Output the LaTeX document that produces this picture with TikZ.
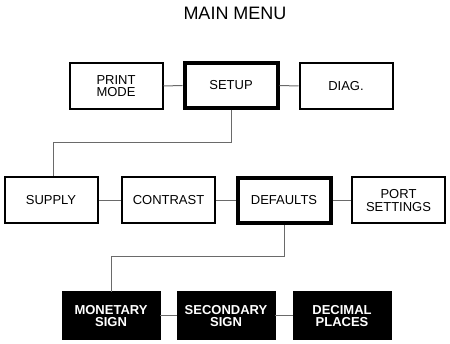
\documentclass[tikz,border=0pt]{standalone}
\usepackage{fontspec}
\setmainfont{Liberation Sans}
\usepackage{tikz}
\usepackage{xcolor}
\definecolor{linkgray}{HTML}{6A6A6A}

\begin{document}
\begin{tikzpicture}[x=1pt, y=-1pt,
  font=\fontsize{13}{12.5}\selectfont,
  menu/.style={draw, line width=2pt, minimum width=93pt, minimum height=46pt,
               inner sep=2pt, align=center},
  sel/.style={menu, line width=4pt, minimum width=93pt, minimum height=45pt},
  leaf/.style={menu, fill=black, text=white, font=\fontsize{13}{12.5}\selectfont\bfseries,
               line width=0pt, minimum width=98pt, minimum height=48pt},
  link/.style={draw=linkgray, line width=1pt},
]
\useasboundingbox (0,0) rectangle (450,344);
\node[font=\fontsize{18}{20}\selectfont] (title) at (235,13) {MAIN MENU};
% top row
\node[menu] (pmode) at (116,86)   {PRINT\\MODE};
\node[sel]  (setup) at (231,85.5) {SETUP};
\node[menu] (diag)  at (346,86)   {DIAG.};
% setup row
\node[menu] (supply)   at (51,200.5)  {SUPPLY};
\node[menu] (contrast) at (168.5,200.5) {CONTRAST};
\node[sel]  (defaults) at (284,200.5) {DEFAULTS};
\node[menu] (port)     at (398.5,200.5) {PORT\\SETTINGS};
% defaults row
\node[leaf] (money) at (111,316) {MONETARY\\SIGN};
\node[leaf] (second) at (226,316) {SECONDARY\\SIGN};
\node[leaf] (places) at (342,316) {DECIMAL\\PLACES};
\coordinate (k1) at (231,143);
\coordinate (k2) at (284,257);
\draw[link] (pmode.east) -- (setup.west);
\draw[link] (setup.east) -- (diag.west);
\draw[link] (setup.south) -- (k1) -| ([xshift=2pt]supply.north);
\draw[link] (supply.east) -- (contrast.west);
\draw[link] (contrast.east) -- (defaults.west);
\draw[link] (defaults.east) -- (port.west);
\draw[link] (defaults.south) -- (k2) -| (money.north);
\draw[link] (money.east) -- (second.west);
\draw[link] (second.east) -- (places.west);
\end{tikzpicture}
\end{document}
